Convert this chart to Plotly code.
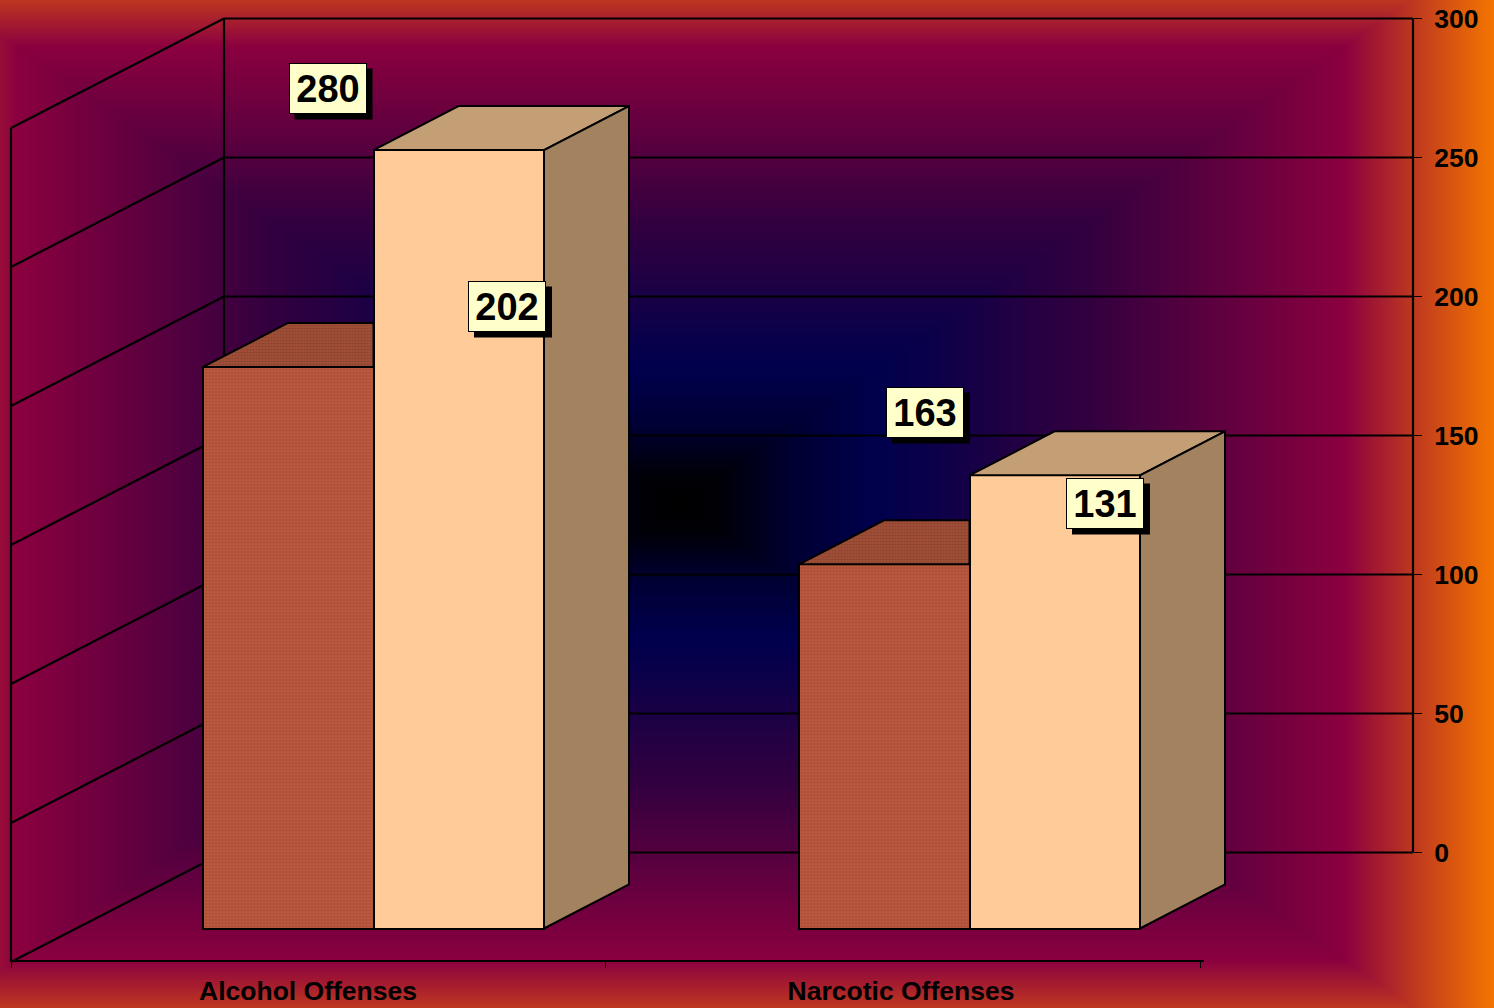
import base64, struct, zlib
import numpy as np
import plotly.graph_objects as go

# ---------- data ----------
categories = ["Alcohol Offenses", "Narcotic Offenses"]
series_front = [202, 131]
series_rear = [280, 163]
y_ticks = [0, 50, 100, 150, 200, 250, 300]

label_centres_front = [(507, 306), (1105, 503)]
label_centres_rear = [(327.5, 88), (925, 412)]

# ---------- geometry of the projected chart (page pixels) ----------
W, H = 1494, 1008
WALL_BASE_PX = 852.5
UNIT_PX = 834 / 300
BACK_L, BACK_R = 224, 1413
FRONT_L = 11
FLOOR_DY = 109.5
FLOOR_PY = 961
FLOOR_R = 1204
BAR_BASE_PX = 928.5
BAR_W = 170.5
GROUP_X = [373.5, 969.5]
DX, DY = 85, 44
CAT_LABEL_X = [308, 901]
CAT_TICKS = [11, 605, 1200]
INK = "#000000"


def val(py):
    return (WALL_BASE_PX - py) / UNIT_PX


BAR_BASE = val(BAR_BASE_PX)
DYV = DY / UNIT_PX
FDY = FLOOR_DY / UNIT_PX


# ---------- background: rectangular path gradient ----------
def gradient_png():
    stops = [0, 0.05, 0.14, 0.24, 0.31, 0.40, 0.50, 0.815, 0.90, 1.0]
    cols = np.array([[0, 0, 0], [0, 0, 8], [0, 0, 52], [0, 0, 78], [12, 0, 74], [32, 0, 68], [50, 0, 63],
                     [139, 0, 64], [190, 56, 32], [245, 118, 0]], float)
    xs = np.arange(W)[None, :]
    ys = np.arange(H)[:, None]
    d = np.maximum(np.abs(xs - 680) / 814, np.abs(ys - 503) / 560)
    rgb = np.stack([np.interp(d, stops, cols[:, i]) for i in range(3)], -1).astype(np.uint8)
    raw = b"".join(b"\x00" + row.tobytes() for row in rgb)

    def chunk(t, b):
        return struct.pack(">I", len(b)) + t + b + struct.pack(">I", zlib.crc32(t + b))

    png = (b"\x89PNG\r\n\x1a\n" + chunk(b"IHDR", struct.pack(">IIBBBBB", W, H, 8, 2, 0, 0, 0))
           + chunk(b"IDAT", zlib.compress(raw, 6)) + chunk(b"IEND", b""))
    return "data:image/png;base64," + base64.b64encode(png).decode()


shapes = []


def line(x0, y0, x1, y1, width=2.2):
    shapes.append(dict(type="line", xref="x", yref="y", x0=x0, y0=y0, x1=x1, y1=y1,
                       layer="below", line=dict(color=INK, width=width)))


# back wall, side wall and floor
for t in y_ticks:
    line(BACK_L, t, BACK_R, t)
    line(BACK_L, t, FRONT_L, t - FDY)
line(BACK_L, y_ticks[0], BACK_L, y_ticks[-1])
line(BACK_R, y_ticks[0], BACK_R, y_ticks[-1])
line(FRONT_L, y_ticks[0] - FDY, FRONT_L, y_ticks[-1] - FDY)
line(FRONT_L, val(FLOOR_PY), FLOOR_R, val(FLOOR_PY))

PATTERN = dict(shape=".", size=3.2, solidity=0.5, fgcolor="#8E422E", bgcolor="#BE5A40")
TOP_PATTERN = dict(shape=".", size=3, solidity=0.55, fgcolor="#78382A", bgcolor="#A65238")
EDGE = dict(color=INK, width=2)
TOP_FILL = "#C49E75"
SIDE_FILL = "#A38260"

fig = go.Figure()

fig.add_trace(go.Bar(x=[g - BAR_W / 2 for g in GROUP_X], y=series_front, base=BAR_BASE, width=BAR_W,
                     marker=dict(color="#B5553C", line=EDGE, pattern=PATTERN),
                     hoverinfo="skip", showlegend=False))
fig.add_trace(go.Bar(x=[g + BAR_W / 2 for g in GROUP_X], y=series_rear, base=BAR_BASE, width=BAR_W,
                     marker=dict(color="#FFCC99", line=EDGE),
                     hoverinfo="skip", showlegend=False))

for g, a, b in zip(GROUP_X, series_front, series_rear):
    # top of the front series, the part not hidden by the rear series
    ta = BAR_BASE + a
    fig.add_trace(go.Scatter(
        x=[g - BAR_W, g, g, g - BAR_W + DX, g - BAR_W], y=[ta, ta, ta + DYV, ta + DYV, ta],
        mode="lines", fill="toself", fillcolor="#A65238", fillpattern=TOP_PATTERN,
        line=EDGE, hoverinfo="skip", showlegend=False))
    # top and side of the rear series
    tb = BAR_BASE + b
    fig.add_trace(go.Scatter(
        x=[g, g + BAR_W, g + BAR_W + DX, g + DX, g], y=[tb, tb, tb + DYV, tb + DYV, tb],
        mode="lines", fill="toself", fillcolor=TOP_FILL,
        line=EDGE, hoverinfo="skip", showlegend=False))
    fig.add_trace(go.Scatter(
        x=[g + BAR_W, g + BAR_W + DX, g + BAR_W + DX, g + BAR_W, g + BAR_W],
        y=[BAR_BASE, BAR_BASE + DYV, tb + DYV, tb, BAR_BASE],
        mode="lines", fill="toself", fillcolor=SIDE_FILL,
        line=EDGE, hoverinfo="skip", showlegend=False))

# ---------- value labels ----------
annotations = []
BOX_W, BOX_H, SHADOW = 78, 51, 6
for vals, centres in ((series_rear, label_centres_rear), (series_front, label_centres_front)):
    for v, (cx, cy) in zip(vals, centres):
        shapes.append(dict(type="rect", xref="x", yref="y", layer="above",
                           x0=cx - BOX_W / 2 + SHADOW, x1=cx + BOX_W / 2 + SHADOW,
                           y0=val(cy + BOX_H / 2 + SHADOW), y1=val(cy - BOX_H / 2 + SHADOW),
                           fillcolor=INK, line=dict(width=0)))
        annotations.append(dict(x=cx, y=val(cy), xref="x", yref="y", text=str(v), showarrow=False,
                                width=BOX_W - 2, height=BOX_H - 2, align="center", valign="middle",
                                bgcolor="#FFFFCC", bordercolor=INK, borderwidth=1, borderpad=0,
                                font=dict(family="Liberation Sans", size=38, color=INK, weight="bold")))

fig.update_layout(
    width=W, height=H, autosize=False,
    margin=dict(l=0, r=0, t=0, b=0, pad=0),
    paper_bgcolor="#8B0040", plot_bgcolor="rgba(0,0,0,0)",
    barmode="overlay", bargap=0, showlegend=False,
    images=[dict(source=gradient_png(), xref="paper", yref="paper", x=0, y=1, sizex=1, sizey=1,
                 sizing="stretch", xanchor="left", yanchor="top", layer="below")],
    shapes=shapes, annotations=annotations,
    xaxis=dict(range=[0, W], domain=[0, 1], anchor="free", position=(H - FLOOR_PY) / H, side="bottom",
               showgrid=False, zeroline=False, showline=False,
               tickmode="array", tickvals=CAT_LABEL_X, ticktext=categories, ticks="",
               ticklabelstandoff=11,
               tickfont=dict(family="Liberation Sans", size=26.5, color=INK, weight="bold"),
               minor=dict(tickmode="array", tickvals=CAT_TICKS, ticks="outside", ticklen=6,
                          tickwidth=1, tickcolor=INK, showgrid=False)),
    yaxis=dict(range=[val(H), val(0)], domain=[0, 1], anchor="free", position=BACK_R / W, side="right",
               showgrid=False, zeroline=False, showline=False,
               tickmode="array", tickvals=y_ticks, ticks="outside", ticklen=8, tickwidth=1, tickcolor=INK,
               ticklabelstandoff=7,
               tickfont=dict(family="Liberation Sans", size=26.5, color=INK, weight="bold")),
)

fig.write_html("out.html", config=dict(displayModeBar=False, responsive=False),
               post_script="document.body.style.margin='0';document.body.style.overflow='hidden';")
